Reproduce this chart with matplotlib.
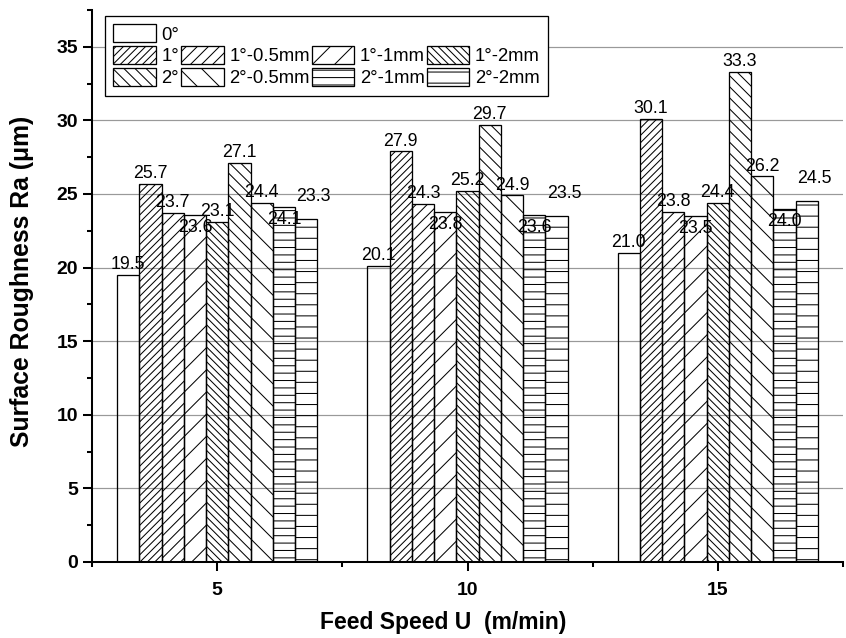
import numpy as np
import matplotlib.pyplot as plt
from matplotlib.patches import Rectangle
from matplotlib.ticker import MultipleLocator

plt.rcParams['font.family'] = ['Liberation Sans', 'DejaVu Sans']
plt.rcParams['hatch.linewidth'] = 0.55

# dados
feed_speed = [5, 10, 15]
series = ['0°', '1°', '1°-0.5mm', '1°-1mm', '1°-2mm',
          '2°', '2°-0.5mm', '2°-1mm', '2°-2mm']
ra = [
    [19.5, 20.1, 21.0],   # 0°
    [25.7, 27.9, 30.1],   # 1°
    [23.7, 24.3, 23.8],   # 1°-0.5mm
    [23.6, 23.8, 23.5],   # 1°-1mm
    [23.1, 25.2, 24.4],   # 1°-2mm
    [27.1, 29.7, 33.3],   # 2°
    [24.4, 24.9, 26.2],   # 2°-0.5mm
    [24.1, 23.6, 24.0],   # 2°-1mm
    [23.3, 23.5, 24.5],   # 2°-2mm
]

hatches = ['', '//////', '////', '//', '\\' * 6, '\\' * 4, '\\' * 2, '---', '--']
# deslocamento vertical dos rótulos (unidades de Ra)
label_dy = [0.7, 0.7, 0.7, -0.85, 0.7, 0.7, 0.7, -0.85, 1.55]
label_dx = [0, 0, 0, 0, 0, 0, 0, 0, 0.15]

dpi = 133.33
fig = plt.figure(figsize=(846 / dpi, 638 / dpi), dpi=dpi)
ax = fig.add_axes([92 / 846, 1 - 562 / 638, 751 / 846, 552 / 638])

x = np.array(feed_speed, dtype=float)
w = 4 / 9
handles = []
for i, nome in enumerate(series):
    pos = x + (i - 4) * w
    barras = ax.bar(pos, ra[i], width=w, facecolor='none', edgecolor='black',
                    linewidth=0.7, hatch=hatches[i], label=nome, zorder=3)
    handles.append(barras)
    for xp, v in zip(pos, ra[i]):
        ax.text(xp + label_dx[i], v + label_dy[i], f'{v:.1f}', ha='center',
                va='center', fontsize=9.6, zorder=4)

ax.set_xlim(2.5, 17.5)
ax.set_ylim(0, 37.5)
ax.set_xticks(feed_speed)
ax.xaxis.set_minor_locator(MultipleLocator(2.5))
ax.yaxis.set_major_locator(MultipleLocator(5))
ax.yaxis.set_minor_locator(MultipleLocator(2.5))

for lado in ['top', 'right']:
    ax.spines[lado].set_visible(False)
for lado in ['left', 'bottom']:
    ax.spines[lado].set_linewidth(1.1)

ax.tick_params(which='major', length=4.9, width=1.1, labelsize=10.5)
ax.tick_params(which='minor', length=2.7, width=1.1)
ax.tick_params(axis='x', which='major', pad=6)
ax.tick_params(axis='y', which='major', pad=2.5)
for t in ax.get_xticklabels() + ax.get_yticklabels():
    t.set_fontweight('bold')

ax.grid(axis='y', which='major', color='#999999', linewidth=0.65, zorder=1)
ax.set_axisbelow(True)

ax.set_xlabel('Feed Speed U  (m/min)', fontsize=12.4, fontweight='bold')
ax.set_ylabel('Surface Roughness Ra (μm)', fontsize=13.4, fontweight='bold')
ax.xaxis.label.set_va('center')
ax.yaxis.label.set_va('center')
ax.xaxis.set_label_coords((443 - 92) / 751, (562 - 623) / 552)
ax.yaxis.set_label_coords((22 - 92) / 751, (562 - 281) / 552)

# legenda: linha 1 só com 0°, depois 1° e 2°
vazio = Rectangle((0, 0), 1, 1, visible=False)
ordem = [handles[0], handles[1], handles[5],
         vazio, handles[2], handles[6],
         vazio, handles[3], handles[7],
         vazio, handles[4], handles[8]]
rotulos = ['0°', '1°', '2°',
           '', '1°-0.5mm', '2°-0.5mm',
           '', '1°-1mm', '2°-1mm',
           '', '1°-2mm', '2°-2mm']
leg = ax.legend(ordem, rotulos, ncol=4, loc='upper left',
                bbox_to_anchor=((105 - 92) / 751, (562 - 16) / 552),
                borderaxespad=0, fontsize=10, frameon=True, fancybox=False,
                edgecolor='black', framealpha=1, handlelength=2.3,
                handleheight=1.1, handletextpad=0.3, columnspacing=0.1,
                labelspacing=0.15, borderpad=0.45)
leg.get_frame().set_linewidth(0.7)
leg.set_zorder(5)

fig.savefig('out.png', dpi=dpi)
